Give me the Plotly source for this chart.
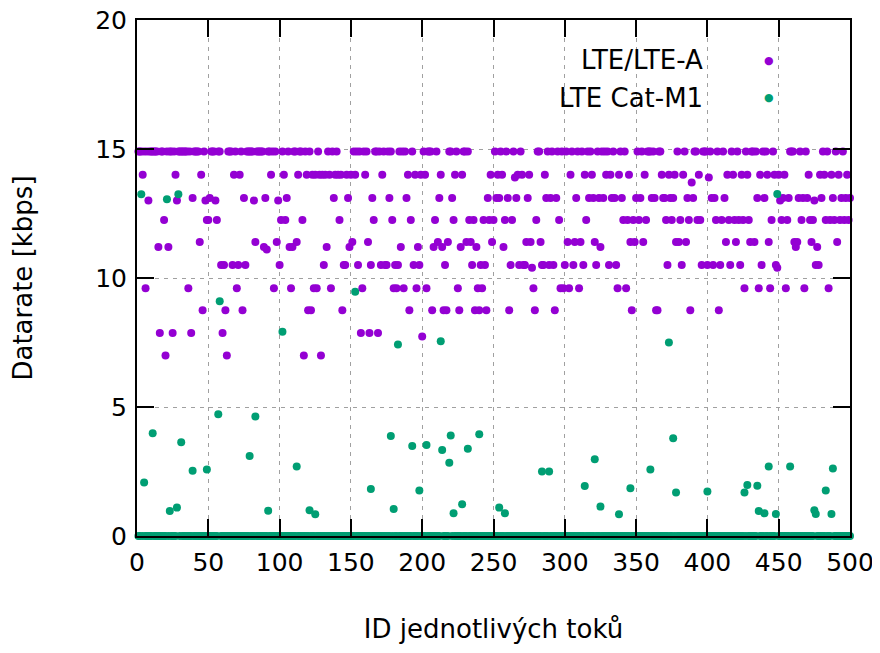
import plotly.graph_objects as go

# Flow IDs 1..500
flow_id = list(range(1, 501))

# LTE/LTE-A datarate [kbps], one value per flow
lte = [
    14.9, 14.9, 14.9, 14.0, 14.9, 9.6, 14.9, 13.0, 14.9, 14.9,
    14.9, 14.9, 14.9, 14.9, 11.2, 7.87, 14.9, 14.9, 12.25, 7.0,
    14.9, 11.2, 14.9, 14.9, 7.87, 14.9, 14.0, 13.0, 14.9, 14.9,
    14.9, 14.9, 14.9, 14.9, 14.9, 9.6, 14.9, 7.87, 13.1, 14.9,
    14.9, 14.9, 14.9, 11.4, 14.0, 8.75, 14.9, 13.0, 12.25, 12.25,
    13.1, 14.9, 14.9, 14.9, 13.0, 12.25, 14.9, 14.9, 10.5, 7.87,
    10.5, 8.75, 7.0, 14.9, 14.9, 14.9, 10.5, 14.0, 14.9, 9.6,
    10.5, 14.0, 14.9, 8.75, 13.1, 10.5, 14.9, 14.9, 14.9, 14.9,
    14.9, 13.0, 11.4, 14.9, 14.9, 14.9, 14.9, 14.9, 11.2, 13.1,
    11.1, 14.9, 14.9, 14.0, 14.9, 9.6, 14.9, 11.4, 13.0, 10.5,
    12.25, 14.9, 14.0, 12.25, 13.1, 14.9, 11.2, 9.6, 11.2, 14.9,
    14.9, 11.4, 14.0, 14.9, 14.9, 12.25, 7.0, 14.9, 14.0, 8.75,
    14.9, 8.75, 14.0, 9.6, 14.0, 9.6, 14.9, 14.0, 7.0, 14.0,
    10.5, 14.0, 11.2, 14.9, 14.0, 9.6, 14.9, 13.1, 14.0, 14.9,
    14.0, 12.25, 14.0, 8.75, 10.5, 10.5, 14.0, 13.1, 11.2, 14.0,
    11.4, 14.9, 14.0, 14.9, 10.5, 14.9, 7.87, 9.6, 14.9, 14.0,
    14.9, 11.4, 7.87, 10.5, 13.1, 12.25, 14.9, 14.9, 7.87, 14.9,
    10.5, 14.0, 14.9, 10.5, 10.5, 14.9, 13.1, 14.9, 12.25, 9.6,
    10.5, 9.6, 10.5, 14.9, 11.2, 14.9, 9.6, 14.9, 13.1, 14.0,
    8.75, 12.25, 14.9, 10.5, 14.0, 9.6, 11.2, 10.5, 14.0, 7.73,
    14.9, 14.0, 9.6, 14.9, 14.9, 14.9, 8.75, 11.2, 12.25, 14.9,
    11.4, 13.1, 14.0, 11.2, 8.75, 10.5, 8.75, 11.4, 14.9, 14.9,
    13.1, 12.25, 14.0, 14.9, 9.6, 8.75, 11.2, 14.0, 14.9, 14.9,
    11.4, 14.9, 12.25, 11.4, 10.5, 12.25, 8.75, 11.2, 9.6, 8.75,
    10.5, 9.6, 12.25, 10.5, 8.75, 13.1, 12.25, 14.0, 11.4, 12.25,
    14.9, 13.1, 14.0, 13.1, 14.9, 14.0, 11.2, 12.25, 14.9, 13.1,
    8.75, 10.5, 12.25, 14.9, 13.9, 13.1, 14.0, 10.5, 14.9, 14.0,
    10.5, 10.5, 11.4, 13.1, 14.0, 11.4, 10.4, 9.6, 8.75, 12.25,
    14.9, 14.9, 11.4, 10.5, 10.5, 14.0, 13.1, 14.9, 10.5, 13.1,
    14.9, 10.5, 8.75, 13.1, 14.9, 12.25, 9.6, 14.9, 9.6, 10.5,
    14.9, 11.4, 9.6, 14.0, 14.9, 10.5, 11.4, 13.1, 14.9, 9.6,
    11.4, 14.9, 10.5, 14.0, 12.25, 14.9, 13.1, 14.9, 14.0, 13.1,
    11.4, 10.5, 14.9, 13.1, 11.2, 14.9, 13.1, 14.9, 14.0, 14.9,
    10.5, 14.0, 13.1, 14.9, 13.1, 10.5, 9.6, 14.0, 14.9, 13.1,
    12.25, 14.9, 9.6, 12.25, 14.0, 11.4, 8.75, 12.25, 11.4, 13.1,
    14.9, 12.25, 13.1, 14.9, 11.4, 14.0, 12.25, 14.9, 14.9, 14.9,
    13.1, 14.9, 13.1, 8.75, 8.75, 14.9, 14.9, 14.0, 13.1, 13.1,
    12.25, 10.5, 14.0, 13.1, 12.25, 13.1, 14.0, 11.4, 14.9, 11.4,
    12.25, 10.5, 14.0, 14.9, 11.4, 13.1, 12.25, 8.75, 13.7, 13.1,
    14.9, 14.9, 12.25, 14.0, 12.25, 10.5, 14.9, 14.9, 14.9, 10.5,
    13.9, 14.9, 13.1, 10.5, 13.1, 12.25, 14.9, 8.75, 10.5, 12.25,
    14.9, 13.1, 11.4, 14.0, 12.25, 10.5, 14.9, 14.0, 12.25, 11.4,
    14.9, 12.25, 10.5, 14.0, 12.25, 9.6, 14.9, 14.0, 12.25, 11.4,
    14.9, 14.9, 11.4, 14.9, 13.1, 9.6, 14.0, 10.5, 14.9, 13.1,
    14.9, 14.0, 11.4, 9.6, 12.25, 14.9, 14.0, 10.5, 10.4, 14.0,
    13.0, 12.25, 13.1, 14.0, 9.6, 12.25, 13.1, 14.9, 14.9, 14.9,
    11.4, 11.2, 11.4, 13.1, 14.9, 12.25, 13.1, 9.6, 14.9, 13.1,
    14.0, 12.25, 11.4, 12.25, 13.0, 10.5, 11.2, 10.5, 14.0, 13.1,
    14.9, 14.0, 12.25, 14.9, 9.6, 12.25, 14.0, 13.1, 12.25, 14.9,
    11.4, 14.0, 12.25, 13.1, 14.9, 12.25, 13.1, 14.0, 12.25, 13.1,
]

# LTE Cat-M1 datarate [kbps], one value per flow
catm1 = [
    0, 0, 13.25, 0, 2.07, 0, 0, 0, 0, 0,
    3.98, 0, 0, 0, 0, 0, 0, 0, 0, 0,
    13.05, 0, 0.97, 0, 0, 0, 0, 1.1, 13.25, 0,
    3.63, 0, 0, 0, 0, 0, 0, 0, 2.53, 0,
    0, 0, 0, 0, 0, 0, 0, 0, 2.58, 0,
    0, 0, 0, 0, 0, 0, 4.72, 9.1, 0, 0,
    0, 0, 0, 0, 0, 0, 0, 0, 0, 0,
    0, 0, 0, 0, 0, 0, 0, 0, 3.1, 0,
    0, 0, 4.63, 0, 0, 0, 0, 0, 0, 0,
    0, 0.98, 0, 0, 0, 0, 0, 0, 0, 0,
    0, 7.92, 0, 0, 0, 0, 0, 0, 0, 0,
    0, 2.69, 0, 0, 0, 0, 0, 0, 0, 0,
    1.0, 0, 0, 0, 0.84, 0, 0, 0, 0, 0,
    0, 0, 0, 0, 0, 0, 0, 0, 0, 0,
    0, 0, 0, 0, 0, 0, 0, 0, 0, 0,
    0, 0, 9.47, 0, 0, 0, 0, 0, 0, 0,
    0, 0, 0, 1.82, 0, 0, 0, 0, 0, 0,
    0, 0, 0, 0, 0, 0, 0, 3.88, 0, 1.05,
    0, 0, 7.42, 0, 0, 0, 0, 0, 0, 0,
    0, 0, 3.49, 0, 0, 0, 0, 1.76, 0, 0,
    0, 0, 3.53, 0, 0, 0, 0, 0, 0, 0,
    0, 0, 7.55, 3.33, 0, 0, 0, 0, 2.84, 3.9,
    0, 0.88, 0, 0, 0, 0, 0, 1.23, 0, 0,
    0, 3.38, 0, 0, 0, 0, 0, 0, 0, 3.94,
    0, 0, 0, 0, 0, 0, 0, 0, 0, 0,
    0, 0, 0, 1.1, 0, 0, 0, 0.88, 0, 0,
    0, 0, 0, 0, 0, 0, 0, 0, 0, 0,
    0, 0, 0, 0, 0, 0, 0, 0, 0, 0,
    0, 0, 0, 2.5, 0, 0, 0, 0, 2.5, 0,
    0, 0, 0, 0, 0, 0, 0, 0, 0, 0,
    0, 0, 0, 0, 0, 0, 0, 0, 0, 0,
    0, 0, 0, 1.94, 0, 0, 0, 0, 0, 0,
    2.97, 0, 0, 0, 1.14, 0, 0, 0, 0, 0,
    0, 0, 0, 0, 0, 0, 0, 0.84, 0, 0,
    0, 0, 0, 0, 0, 1.85, 0, 0, 0, 0,
    0, 0, 0, 0, 0, 0, 0, 0, 0, 2.58,
    0, 0, 0, 0, 0, 0, 0, 0, 0, 0,
    0, 0, 7.5, 0, 0, 3.79, 0, 1.69, 0, 0,
    0, 0, 0, 0, 0, 0, 0, 0, 0, 0,
    0, 0, 0, 0, 0, 0, 0, 0, 0, 1.72,
    0, 0, 0, 0, 0, 0, 0, 0, 0, 0,
    0, 0, 0, 0, 0, 0, 0, 0, 0, 0,
    0, 0, 0, 0, 0, 1.69, 0, 1.98, 0, 0,
    0, 0, 0, 0, 1.95, 0.97, 0, 0, 0, 0.88,
    0, 0, 2.69, 0, 0, 0, 0, 0.85, 13.26, 0,
    0, 0, 0, 0, 0, 0, 0, 2.69, 0, 0,
    0, 0, 0, 0, 0, 0, 0, 0, 0, 0,
    0, 0, 0, 0, 1.0, 0.85, 0, 0, 0, 0,
    0, 0, 1.76, 0, 0, 0, 0.85, 2.62, 0, 0,
    0, 0, 0, 0, 0, 0, 0, 0, 0, 0,
]

series_names = ["LTE/LTE-A", "LTE Cat-M1"]
series_colors = ["#9400D3", "#009E73"]
x_ticks = [0, 50, 100, 150, 200, 250, 300, 350, 400, 450, 500]
y_ticks = [0, 5, 10, 15, 20]

FONT = "DejaVu Sans"
FS = 26

fig = go.Figure()
for name, vals, col in zip(series_names, [lte, catm1], series_colors):
    fig.add_trace(go.Scatter(
        x=flow_id, y=vals, mode="markers", name=name,
        marker=dict(color=col, size=8, line=dict(width=0)),
        cliponaxis=False, showlegend=False,
    ))

axis_common = dict(
    showline=True, linecolor="black", linewidth=2, mirror="ticks",
    ticks="inside", ticklen=17, tickwidth=2, tickcolor="black",
    showgrid=True, gridcolor="#a0a0a0", gridwidth=1, griddash="4px,5px",
    zeroline=False, tickfont=dict(family=FONT, size=FS - 1, color="black"),
    layer="above traces", automargin=False, ticklabeloverflow="allow",
)

fig.update_xaxes(range=[0, 500], tickvals=x_ticks, ticklabelstandoff=3,
                 title=dict(text="ID jednotlivých toků", standoff=44,
                            font=dict(family=FONT, size=FS, color="black")),
                 **axis_common)
fig.update_yaxes(range=[0, 20], tickvals=y_ticks, ticklabelstandoff=3,
                 title=dict(text="Datarate [kbps]", standoff=55,
                            font=dict(family=FONT, size=FS, color="black")),
                 **axis_common)

# gnuplot-style key: text right-aligned, symbol to the right
key_y = [0.922, 0.849]
annotations = []
for name, col, yy in zip(series_names, series_colors, key_y):
    annotations.append(dict(xref="paper", yref="paper", x=0.796, y=yy,
                            text=name, showarrow=False, xanchor="right",
                            yanchor="middle",
                            font=dict(family=FONT, size=FS, color="black")))
    annotations.append(dict(xref="paper", yref="paper", x=0.886, y=yy,
                            text="●", showarrow=False, xanchor="center",
                            yanchor="middle",
                            font=dict(family=FONT, size=11, color=col)))

# page body adds an 8 px offset; margins compensate so the plot box lands at
# x 137..850, y 20..536 in the 880x653 window
fig.update_layout(
    width=872, height=645,
    margin=dict(l=129, r=30, t=12, b=117, autoexpand=False),
    plot_bgcolor="white", paper_bgcolor="white",
    annotations=annotations,
    font=dict(family=FONT, color="black"),
)

fig.write_html("out.html")
